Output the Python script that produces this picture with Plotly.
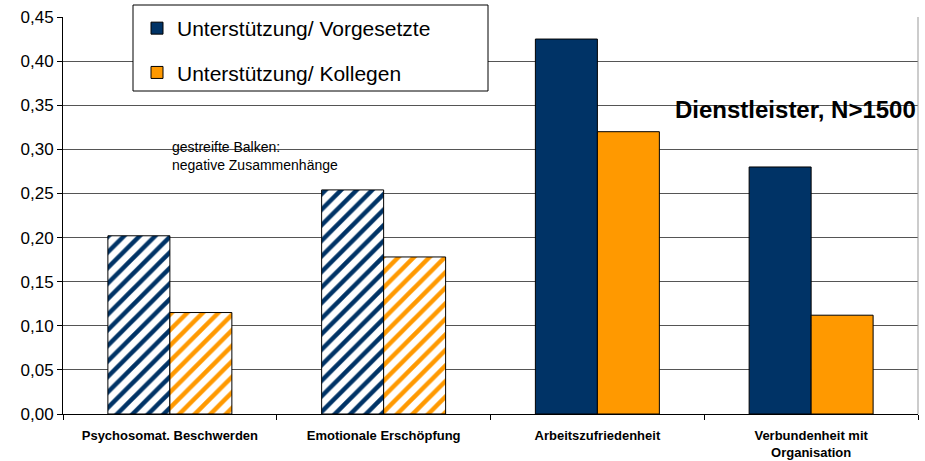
import plotly.graph_objects as go

categories = ["Psychosomat. Beschwerden", "Emotionale Erschöpfung",
              "Arbeitszufriedenheit", "Verbundenheit mit<br>Organisation"]
vorgesetzte = [0.202, 0.254, 0.425, 0.280]
kollegen = [0.115, 0.178, 0.320, 0.112]
negative = [True, True, False, False]
series_names = ["Unterstützung/ Vorgesetzte", "Unterstützung/ Kollegen"]
colors = ["#003366", "#FF9900"]
y_ticks = [0.00, 0.05, 0.10, 0.15, 0.20, 0.25, 0.30, 0.35, 0.40, 0.45]

FONT = "Liberation Sans, Arial, sans-serif"
W, H = 925, 461
ML, MR, MT, MB = 63, 7, 17, 47
PW, PH = W - ML - MR, H - MT - MB


def px_x(x):
    return (x - ML) / PW


def px_y(y):
    return (H - MB - y) / PH


fig = go.Figure()

for name, vals, col in zip(series_names, [vorgesetzte, kollegen], colors):
    neg_x = [c for c, n in zip(categories, negative) if n]
    neg_y = [v for v, n in zip(vals, negative) if n]
    pos_x = [c for c, n in zip(categories, negative) if not n]
    pos_y = [v for v, n in zip(vals, negative) if not n]
    fig.add_trace(go.Bar(
        x=neg_x, y=neg_y, name=name, offsetgroup=name, legendgroup=name,
        showlegend=False,
        marker=dict(color="white", line=dict(color="black", width=1),
                    pattern=dict(shape="/", fgcolor=col, bgcolor="white",
                                 fillmode="replace", size=11, solidity=0.4)),
    ))
    fig.add_trace(go.Bar(
        x=pos_x, y=pos_y, name=name, offsetgroup=name, legendgroup=name,
        showlegend=True,
        marker=dict(color=col, line=dict(color="black", width=1)),
    ))

fig.update_layout(
    width=W, height=H,
    barmode="group", bargap=0.42, bargroupgap=0,
    plot_bgcolor="white", paper_bgcolor="white",
    margin=dict(l=ML, r=MR, t=MT, b=MB, autoexpand=False),
    separators=",.",
    font=dict(family=FONT, color="black"),
    legend=dict(x=px_x(137), y=px_y(8), xanchor="left", yanchor="top",
                bgcolor="rgba(0,0,0,0)", borderwidth=0,
                font=dict(size=21, family=FONT), tracegroupgap=14,
                traceorder="grouped", itemwidth=30),
    annotations=[
        dict(text="gestreifte Balken:<br>negative Zusammenhänge", x=px_x(170), y=px_y(137),
             xref="paper", yref="paper", xanchor="left", yanchor="top",
             showarrow=False, align="left", font=dict(size=14, family=FONT)),
        dict(text="<b>Dienstleister, N>1500</b>", x=1.0, y=px_y(109),
             xref="paper", yref="paper", xanchor="right", yanchor="middle",
             showarrow=False, font=dict(size=24, family=FONT)),
    ],
    shapes=[
        dict(type="rect", xref="paper", yref="paper",
             x0=px_x(133), x1=px_x(488), y0=px_y(91), y1=px_y(5),
             line=dict(color="black", width=1), fillcolor="white", layer="above"),
        dict(type="line", xref="paper", yref="paper", x0=1, x1=1, y0=0, y1=1,
             line=dict(color="#999999", width=1)),
    ],
)
fig.update_xaxes(
    showline=True, linecolor="black", linewidth=1, mirror=False,
    ticks="outside", tickson="boundaries", ticklen=5, tickcolor="black",
    tickfont=dict(size=13, family=FONT), showgrid=False, ticklabelstandoff=9,
    tickvals=categories, ticktext=["<b>%s</b>" % c for c in categories],
)
fig.update_yaxes(
    range=[0, 0.45], tickvals=y_ticks, tickformat=".2f",
    showline=True, linecolor="black", linewidth=1,
    ticks="outside", ticklen=5, tickcolor="black",
    showgrid=True, gridcolor="#555555", gridwidth=1,
    tickfont=dict(size=17, family=FONT), zeroline=False,
)
fig.write_html("out.html", config={"displayModeBar": False},
               post_script="document.body.style.margin='0';document.body.style.overflow='hidden';")
